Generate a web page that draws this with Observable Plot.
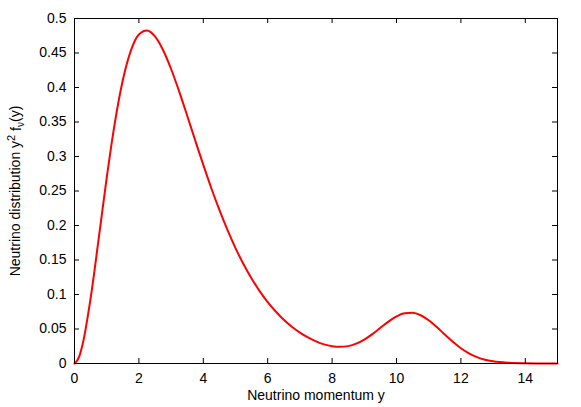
<!DOCTYPE html>
<html><head><meta charset="utf-8">
<script src="https://cdn.jsdelivr.net/npm/d3@7"></script>
<script src="https://cdn.jsdelivr.net/npm/@observablehq/plot@0.6"></script>
<style>
body{margin:0;background:#fff;}
svg{font-family:"Liberation Sans",Arial,Helvetica,sans-serif;}
</style>
</head><body><div id="chart"></div>
<script>
const momentum = [0, 0.15, 0.25, 0.5, 0.75, 1.0, 1.25, 1.5, 1.75, 2.0, 2.25, 2.5, 2.75, 3.0, 3.25, 3.5, 3.75, 4.0, 4.25, 4.5, 4.75, 5.0, 5.25, 5.5, 5.75, 6.0, 6.25, 6.5, 6.75, 7.0, 7.25, 7.5, 7.75, 8.0, 8.25, 8.5, 8.75, 9.0, 9.25, 9.5, 9.75, 10.0, 10.25, 10.5, 10.75, 11.0, 11.25, 11.5, 11.75, 12.0, 12.25, 12.5, 12.75, 13.0, 13.5, 14.0, 14.5, 15.0];
const distribution = [0, 0.0104, 0.0274, 0.0944, 0.1805, 0.2689, 0.348, 0.4105, 0.4534, 0.4768, 0.4827, 0.4741, 0.4544, 0.4268, 0.3943, 0.3591, 0.3231, 0.2878, 0.254, 0.2225, 0.1935, 0.1673, 0.1439, 0.1231, 0.1049, 0.089, 0.0753, 0.0634, 0.0533, 0.0448, 0.0377, 0.032, 0.0277, 0.025, 0.0241, 0.0252, 0.0287, 0.0346, 0.0425, 0.0517, 0.0607, 0.0682, 0.0728, 0.0734, 0.0699, 0.0626, 0.0528, 0.0419, 0.0314, 0.0221, 0.0147, 0.0092, 0.0054, 0.0031, 0.001, 0.0003, 0.0001, 0.0001];
const xTicks = [0, 2, 4, 6, 8, 10, 12, 14];
const xTickLabels = ["0", "2", "4", "6", "8", "10", "12", "14"];
const yTicks = [0, 0.05, 0.1, 0.15, 0.2, 0.25, 0.3, 0.35, 0.4, 0.45, 0.5];
const yTickLabels = ["0", "0.05", "0.1", "0.15", "0.2", "0.25", "0.3", "0.35", "0.4", "0.45", "0.5"];
const xLabel = "Neutrino momentum y";
const yLabelParts = ["Neutrino distribution y", "2", " f", "ν", "(y)"];

const data = momentum.map((x, i) => ({x, y: distribution[i]}));
const W = 581, H = 407, mt = 18, mr = 24, mb = 44, ml = 74;
const fw = W - ml - mr, fh = H - mt - mb, tk = 5;
const yLabelPlain = yLabelParts.join("");

const chart = Plot.plot({
  width: W, height: H,
  marginTop: mt, marginRight: mr, marginBottom: mb, marginLeft: ml,
  style: {fontFamily: '"Liberation Sans", Arial, sans-serif', fontSize: "14px", background: "white", color: "black", overflow: "visible"},
  x: {domain: [0, 15]},
  y: {domain: [0, 0.5]},
  marks: [
    Plot.line(data, {x: "x", y: "y", stroke: "#ff0000", strokeWidth: 2, curve: "monotone-x"}),
    Plot.ruleX(xTicks, {x: d => d, insetTop: fh - tk, stroke: "black"}),
    Plot.ruleX(xTicks, {x: d => d, insetBottom: fh - tk, stroke: "black"}),
    Plot.ruleY(yTicks, {y: d => d, insetRight: fw - tk, stroke: "black"}),
    Plot.ruleY(yTicks, {y: d => d, insetLeft: fw - tk, stroke: "black"}),
    Plot.frame({stroke: "black", strokeWidth: 1}),
    Plot.axisX(xTicks, {anchor: "bottom", tickSize: 0, tickPadding: 10, fontSize: 14, label: null,
      tickFormat: d => xTickLabels[xTicks.indexOf(d)]}),
    Plot.axisY(yTicks, {anchor: "left", tickSize: 0, tickPadding: 8, fontSize: 14, label: null,
      tickFormat: d => yTickLabels[yTicks.indexOf(d)]}),
    Plot.text([xLabel], {text: d => d, frameAnchor: "bottom", dy: 36, lineAnchor: "bottom", fontSize: 14, fill: "black"}),
    Plot.text([yLabelPlain], {text: d => d, frameAnchor: "left", dx: -59, rotate: -90, textAnchor: "middle", lineAnchor: "middle", fontSize: 14, fill: "black"})
  ]
});
document.getElementById("chart").appendChild(chart);

// rich formatting of the y label (superscript 2, subscript nu)
d3.select(chart).selectAll("text").filter(function () { return this.textContent === yLabelPlain; })
  .each(function () {
    const t = d3.select(this);
    t.text(null);
    t.append("tspan").text(yLabelParts[0]);
    t.append("tspan").attr("dy", "-0.45em").attr("font-size", 11).text(yLabelParts[1]);
    t.append("tspan").attr("dy", "0.45em").text(yLabelParts[2]);
    t.append("tspan").attr("dy", "0.3em").attr("font-size", 10).text(yLabelParts[3]);
    t.append("tspan").attr("dy", "-0.3em").text(yLabelParts[4]);
  });
</script>
</body></html>
